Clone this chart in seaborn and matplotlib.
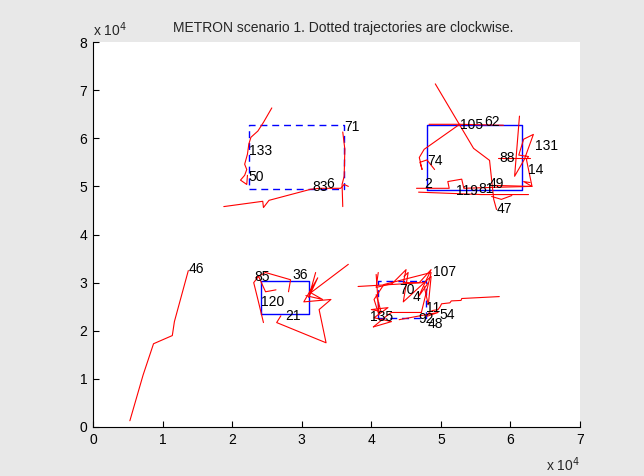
import matplotlib
matplotlib.use("Agg")
import matplotlib.pyplot as plt
import seaborn as sns
import pandas as pd

# ---- data (units of 10^4) ----
traj_names = ["46", "133", "83", "71", "105", "74a", "74b", "2a", "2b", "2c", "47",
              "131", "88", "36", "120", "21", "long", "54", "70a", "70b", "70c", "70d", "70e",
              "135z", "107z"]
traj_x = [
    [0.53, 0.72, 0.87, 1.14, 1.17, 1.37],
    [2.57, 2.45, 2.37, 2.27, 2.24, 2.22, 2.18, 2.21, 2.18, 2.12, 2.21, 2.22],
    [1.88, 2.44, 2.45, 2.53, 3.13, 3.25, 3.56, 3.61, 3.67],
    [3.59, 3.62, 3.61, 3.58, 3.59],
    [4.92, 5.47, 5.70, 5.76, 5.80],
    [5.90, 5.27, 4.83],
    [5.27, 4.76, 4.69, 4.73, 4.70, 4.80, 4.91],
    [4.65, 5.12, 5.10, 5.30, 5.33, 5.77, 6.31],
    [4.68, 5.58, 6.26],
    [5.77, 6.28],
    [5.73, 5.87, 6.02],
    [6.13, 6.06, 6.20, 6.33, 6.19, 6.12, 6.26, 6.23, 6.31, 6.19, 6.28],
    [5.82, 6.28],
    [2.34, 2.48, 2.84, 2.81],
    [2.45, 2.37, 2.31, 2.38, 2.48, 2.63],
    [2.70, 2.64, 3.35, 3.25, 3.42, 3.03, 3.23, 3.10, 3.20],
    [3.67, 3.13, 3.30, 3.06],
    [5.84, 5.30, 5.29, 5.15, 5.13, 5.01, 4.99, 4.96, 4.88, 4.83],
    [3.81, 4.75],
    [4.07, 4.11, 4.04, 4.18, 4.86, 4.72],
    [4.47, 4.53, 4.46, 4.86, 4.82, 4.76],
    [4.03, 4.24, 4.29, 4.72],
    [4.40, 4.96, 4.80],
    [4.07, 4.14, 4.00, 4.24, 4.04, 4.29, 4.03],
    [4.10, 4.07, 4.30, 4.50, 4.46, 4.69, 4.86, 4.68, 4.82],
]
traj_y = [
    [0.13, 1.08, 1.73, 1.90, 2.19, 3.25],
    [6.63, 6.33, 6.15, 6.02, 5.88, 5.67, 5.46, 5.35, 5.23, 5.13, 5.04, 5.23],
    [4.58, 4.69, 4.56, 4.71, 4.94, 4.96, 4.96, 5.04, 5.00],
    [6.13, 5.77, 5.21, 5.04, 4.58],
    [7.13, 5.79, 5.54, 4.73, 4.52],
    [6.27, 6.29, 6.29],
    [6.29, 5.77, 5.60, 5.35, 5.50, 5.55, 5.35],
    [4.96, 4.96, 5.10, 5.15, 4.96, 4.98, 5.00],
    [4.88, 4.83, 4.83],
    [5.02, 5.00],
    [4.79, 4.73, 4.81],
    [6.46, 5.21, 5.56, 6.08, 5.98, 5.65, 5.62, 5.56, 5.00, 5.10, 5.08],
    [5.58, 5.58],
    [3.10, 3.21, 3.06, 2.81],
    [2.17, 2.65, 3.00, 3.13, 2.81, 2.85],
    [2.31, 2.17, 1.75, 2.44, 2.65, 2.60, 3.10, 2.69, 3.21],
    [3.38, 2.79, 2.65, 2.73],
    [2.71, 2.67, 2.63, 2.62, 2.58, 2.56, 2.50, 2.44, 2.42, 2.38],
    [2.92, 3.00],
    [3.17, 2.33, 2.65, 2.96, 3.21, 2.38],
    [3.13, 3.21, 2.60, 3.13, 2.54, 2.92],
    [2.08, 2.33, 2.38, 2.38],
    [2.23, 2.38, 2.30],
    [2.75, 2.40, 2.44, 2.48, 2.27, 2.19, 2.08],
    [3.21, 2.90, 2.98, 3.27, 3.00, 3.00, 3.27, 2.71, 3.00],
]

# rectangles: (x0, y0, x1, y1, dashed)
rect_x0 = [2.24, 4.80, 2.41, 4.10]
rect_y0 = [4.94, 4.92, 2.35, 2.27]
rect_x1 = [3.61, 6.16, 3.10, 4.79]
rect_y1 = [6.27, 6.27, 3.04, 3.04]
rect_dashed = [True, False, False, True]

label_text = ["71", "133", "50", "83", "6", "105", "62", "131", "88", "14", "74", "2",
              "119", "81", "49", "47", "46", "85", "36", "120", "21", "107", "70", "4",
              "11", "54", "135", "92", "48"]
label_x = [3.61, 2.24, 2.24, 3.16, 3.35, 5.27, 5.63, 6.35, 5.84, 6.25, 4.80, 4.76,
           5.22, 5.54, 5.69, 5.80, 1.37, 2.32, 2.86, 2.42, 2.77, 4.88, 4.40, 4.60,
           4.79, 4.98, 3.98, 4.68, 4.81]
label_y = [6.23, 5.73, 5.19, 4.98, 5.04, 6.27, 6.33, 5.83, 5.58, 5.33, 5.52, 5.04,
           4.90, 4.94, 5.04, 4.54, 3.29, 3.125, 3.15, 2.60, 2.31, 3.23, 2.85, 2.71,
           2.48, 2.33, 2.29, 2.25, 2.15]

x_ticks = [0, 1, 2, 3, 4, 5, 6, 7]
y_ticks = [0, 1, 2, 3, 4, 5, 6, 7, 8]

# ---- build tables ----
rows = []
for name, xs, ys in zip(traj_names, traj_x, traj_y):
    for i, (xv, yv) in enumerate(zip(xs, ys)):
        rows.append({"traj": name, "order": i, "x": xv, "y": yv})
df = pd.DataFrame(rows)

rect_rows = []
for k, (a, b, c, d, dsh) in enumerate(zip(rect_x0, rect_y0, rect_x1, rect_y1, rect_dashed)):
    for i, (xv, yv) in enumerate([(a, b), (c, b), (c, d), (a, d), (a, b)]):
        rect_rows.append({"rect": k, "order": i, "x": xv, "y": yv, "dashed": dsh})
rdf = pd.DataFrame(rect_rows)

sns.set_style("white")
plt.rcParams["font.family"] = ["Liberation Sans", "DejaVu Sans"]

fig = plt.figure(figsize=(6.44, 4.76), dpi=100, facecolor="#e8e8e8")
ax = fig.add_axes([93 / 644, 1 - 427 / 476, 487 / 644, 385 / 476])
ax.set_facecolor("white")

for k in range(len(rect_x0)):
    sub = rdf[rdf["rect"] == k]
    sns.lineplot(data=sub, x="x", y="y", sort=False, estimator=None, ax=ax,
                 color="#0000ff", lw=1.0,
                 linestyle=(0, (5, 3.5)) if rect_dashed[k] else "-")

sns.lineplot(data=df, x="x", y="y", units="traj", estimator=None, sort=False,
             ax=ax, color="#ff0000", lw=0.8, legend=False)

for t, xv, yv in zip(label_text, label_x, label_y):
    ax.text(xv, yv, t, ha="left", va="center", fontsize=10, color="black")

ax.set_xlim(0, 7)
ax.set_ylim(0, 8)
ax.set_xticks(x_ticks)
ax.set_yticks(y_ticks)
ax.set_xticklabels([str(v) for v in x_ticks])
ax.set_yticklabels([str(v) for v in y_ticks])
ax.set_xlabel("")
ax.set_ylabel("")
for s in ["top", "right"]:
    ax.spines[s].set_visible(False)
for s in ["left", "bottom"]:
    ax.spines[s].set_color("black")
    ax.spines[s].set_linewidth(0.8)
ax.tick_params(direction="in", length=4, width=0.8, labelsize=10, colors="black",
               left=True, bottom=True, pad=4)

ax.set_title("METRON scenario 1. Dotted trajectories are clockwise.", fontsize=10, pad=7,
             x=0.513)
fig.text(93 / 644, 1 - 30 / 476, r"x 10$^4$", fontsize=10, ha="left", va="center")
fig.text(580 / 644, 1 - 465 / 476, r"x 10$^4$", fontsize=10, ha="right", va="center")

fig.savefig("out.png", dpi=100, facecolor=fig.get_facecolor())
